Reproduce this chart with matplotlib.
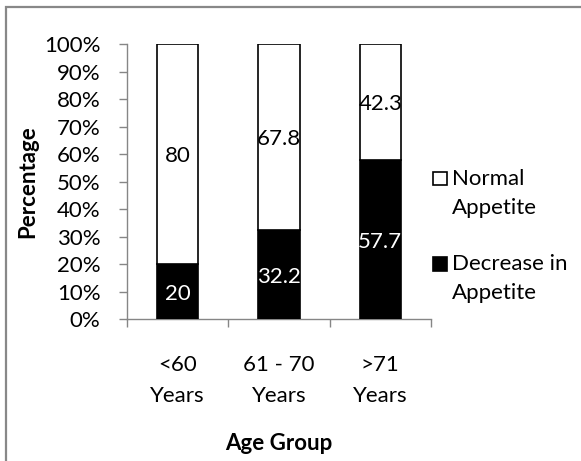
import numpy as np
import matplotlib
matplotlib.use("Agg")
import matplotlib.pyplot as plt
from matplotlib.patches import Rectangle

plt.rcParams['font.family'] = ['Lato', 'DejaVu Sans']

categories = ["<60\nYears", "61 - 70\nYears", ">71\nYears"]
decrease = [20, 32.2, 57.7]
normal = [80, 67.8, 42.3]
decrease_labels = ["20", "32.2", "57.7"]
normal_labels = ["80", "67.8", "42.3"]
legend_labels = ["Normal\nAppetite", "Decrease in\nAppetite"]
yticks = [0, 10, 20, 30, 40, 50, 60, 70, 80, 90, 100]
ytick_labels = [f"{v}%" for v in yticks]

W, H = 581, 461
FS = 16
GRAY = '#868686'

fig = plt.figure(figsize=(W / 100, H / 100), dpi=100)
ax = fig.add_axes([127 / W, 1 - 319 / H, (431 - 127) / W, (319 - 44) / H])

x = np.arange(len(categories))
bw = 0.405
b1 = ax.bar(x, decrease, bw, color='black', edgecolor='black', linewidth=1.2, zorder=3)
b2 = ax.bar(x, normal, bw, bottom=decrease, color='white', edgecolor='black',
            linewidth=1.2, zorder=3)

for rect, lab in zip(b1, decrease_labels):
    ax.text(rect.get_x() + rect.get_width() / 2, rect.get_y() + rect.get_height() / 2,
            lab, ha='center', va='center_baseline', color='white', fontsize=FS, zorder=4)
for rect, lab in zip(b2, normal_labels):
    ax.text(rect.get_x() + rect.get_width() / 2, rect.get_y() + rect.get_height() / 2,
            lab, ha='center', va='center_baseline', color='black', fontsize=FS, zorder=4)

ax.set_xlim(-0.5, len(categories) - 0.5)
ax.set_ylim(0, 100)
ax.set_yticks(yticks)
ax.set_yticklabels(ytick_labels, fontsize=FS)
ax.tick_params(axis='y', direction='out', length=6, width=1, color=GRAY, pad=13)

ax.set_xticks(np.arange(-0.5, len(categories), 1.0))
ax.set_xticklabels([])
ax.set_xticks(x, minor=True)
ax.set_xticklabels(categories, minor=True, fontsize=FS, linespacing=1.66)
ax.tick_params(axis='x', which='major', direction='out', length=6, width=1, color=GRAY)
ax.tick_params(axis='x', which='minor', length=0, pad=26)

for s in ['top', 'right']:
    ax.spines[s].set_visible(False)
for s in ['left', 'bottom']:
    ax.spines[s].set_color(GRAY)
    ax.spines[s].set_linewidth(1)

ax.set_ylabel('Percentage', fontsize=FS, fontweight='bold')
ax.yaxis.set_label_coords((28 - 127) / 304, 0.5)
ax.yaxis.label.set_verticalalignment('center')
ax.set_xlabel('Age Group', fontsize=FS, fontweight='bold')
ax.xaxis.set_label_coords(0.5, (319 - 443) / 275)
ax.xaxis.label.set_verticalalignment('center')

# legend (manual, square aligned with first text line as in the reference)
leg_entries = [(legend_labels[0], 'white', 172), (legend_labels[1], 'black', 257)]
for lab, fc, ytop in leg_entries:
    fig.patches.append(Rectangle((433 / W, 1 - (ytop + 13.5) / H), 14 / W, 13.5 / H,
                                 transform=fig.transFigure, facecolor=fc,
                                 edgecolor='black', linewidth=1.2))
    fig.text(452 / W, 1 - (ytop - 3) / H, lab, ha='left', va='top', fontsize=FS,
             linespacing=1.56)

fig.patches.append(Rectangle((6 / W, -0.1), 1.2, 1 - 7 / H + 0.1, transform=fig.transFigure,
                             facecolor='none', edgecolor='#888888', linewidth=1.6, clip_on=False))

fig.savefig('out.png', dpi=100, facecolor='white')
